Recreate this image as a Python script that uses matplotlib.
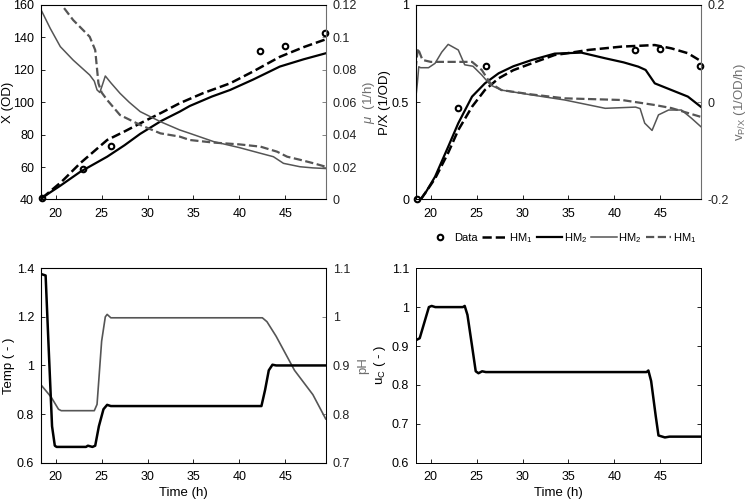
import matplotlib
matplotlib.use("Agg")
import matplotlib.pyplot as plt

plt.rcParams['font.family'] = ['Liberation Sans', 'DejaVu Sans']
plt.rcParams['font.size'] = 9
plt.rcParams['mathtext.fontset'] = 'custom'
plt.rcParams['mathtext.rm'] = 'Liberation Sans'
plt.rcParams['mathtext.it'] = 'Liberation Sans:italic'

# ---------------- data ----------------
# measured data
data_t = [18.5, 23.0, 26.0, 42.2, 45.0, 49.3]
data_X = [41, 59, 73, 131.5, 135, 142.5]
data_PX = [0.0, 0.47, 0.686, 0.767, 0.772, 0.686]

# X (OD) model curves
x_t_hm1 = [18.5, 20.65, 22.65, 25.6, 27.5, 29.2, 31.5, 33.5, 36, 39, 41.5, 44.4, 47, 49.4]
x_hm1 = [40.8, 51, 62.3, 76.7, 82, 87, 93.5, 99.4, 105.5, 111.7, 119, 128, 134, 138.8]
x_t_hm2 = [18.5, 20.5, 22.65, 25.6, 27.5, 29.2, 31.5, 33.5, 34.6, 37, 39, 41.5, 44.4, 47, 49.4]
x_hm2 = [41, 48.5, 57, 66.4, 73.5, 80.5, 88.5, 94.2, 97.7, 103.5, 107.6, 114, 122, 126.5, 130.2]

# mu (1/h)
mu_t_hm2 = [18.4, 18.5, 19.4, 20.5, 21.9, 23.7, 24.2, 24.5, 24.8, 25.1, 25.4, 26.0, 27.0, 28.0, 29.2, 31.4, 33.5, 34.6, 37.2, 40.0, 42.3, 43.7, 44.8, 46.6, 48.0, 49.4]
mu_hm2 = [0.117, 0.1159, 0.1056, 0.0943, 0.086, 0.0768, 0.073, 0.0676, 0.066, 0.071, 0.0762, 0.072, 0.0655, 0.060, 0.0542, 0.048, 0.0429, 0.0408, 0.0357, 0.032, 0.0285, 0.0264, 0.0223, 0.0202, 0.0195, 0.0191]
mu_t_hm1 = [18.4, 20.65, 21.9, 23.7, 24.3, 24.65, 25.0, 25.6, 27.0, 29.2, 31.4, 33.5, 34.6, 37.2, 40.0, 42.3, 44.1, 45.2, 46.6, 48.1, 49.4]
mu_hm1 = [0.135, 0.12, 0.1107, 0.1004, 0.0922, 0.0717, 0.066, 0.0614, 0.0521, 0.046, 0.0408, 0.0388, 0.0367, 0.0351, 0.034, 0.0326, 0.0295, 0.0264, 0.0245, 0.0223, 0.0202]

# P/X (1/OD)
px_t_hm1 = [18.9, 19.5, 20.5, 21.9, 23.0, 24.5, 25.9, 27.4, 29.0, 31.0, 33.5, 34.6, 37.2, 40.8, 44.4, 46.2, 48.0, 49.4]
px_hm1 = [0.0, 0.04, 0.11, 0.24, 0.357, 0.477, 0.563, 0.623, 0.665, 0.70, 0.743, 0.75, 0.769, 0.786, 0.794, 0.777, 0.752, 0.712]
px_t_hm2 = [18.9, 19.5, 20.47, 21.9, 23.0, 24.5, 25.9, 27.4, 29.0, 31.0, 33.5, 36.4, 39.0, 41.0, 42.6, 43.4, 44.4, 46.2, 48.0, 49.4]
px_hm2 = [0.0, 0.04, 0.117, 0.271, 0.392, 0.529, 0.597, 0.649, 0.685, 0.717, 0.75, 0.755, 0.726, 0.705, 0.683, 0.666, 0.597, 0.563, 0.529, 0.477]

# v_P/X (1/OD/h)
v_t_hm2 = [18.35, 18.55, 18.7, 18.9, 19.76, 20.47, 21.2, 21.9, 23.0, 23.7, 24.6, 25.56, 26.5, 27.7, 31.0, 34.6, 39.0, 42.3, 42.8, 43.3, 44.1, 44.8, 45.9, 47.3, 48.4, 49.4]
v_hm2 = [0.0046, 0.04, 0.073, 0.071, 0.071, 0.080, 0.103, 0.119, 0.1075, 0.077, 0.074, 0.056, 0.0355, 0.025, 0.015, 0.0046, -0.0125, -0.010, -0.013, -0.043, -0.058, -0.026, -0.016, -0.016, -0.033, -0.050]
v_t_hm1 = [18.35, 18.6, 19.1, 20.0, 24.5, 25.56, 26.5, 27.7, 31.0, 34.6, 40.8, 44.4, 46.2, 49.4]
v_hm1 = [0.068, 0.111, 0.087, 0.083, 0.083, 0.0663, 0.039, 0.025, 0.016, 0.008, 0.0046, -0.0057, -0.012, -0.030]

# Temp (-) and pH
temp_t = [18.5, 18.9, 19.2, 19.6, 19.9, 20.1, 23.3, 23.5, 24.0, 24.3, 24.7, 25.2, 25.6, 26.0, 42.4, 42.8, 43.2, 43.6, 44.0, 49.4]
temp = [1.375, 1.37, 1.10, 0.75, 0.67, 0.665, 0.665, 0.67, 0.665, 0.67, 0.75, 0.82, 0.838, 0.833, 0.833, 0.90, 0.98, 1.003, 1.0, 1.0]
ph_t = [18.4, 19.5, 20.3, 20.6, 24.2, 24.5, 25.0, 25.4, 25.6, 26.0, 42.5, 43.0, 44.0, 45.0, 46.0, 47.0, 48.0, 49.4]
ph = [0.86, 0.835, 0.81, 0.807, 0.807, 0.82, 0.95, 1.0, 1.005, 0.998, 0.998, 0.99, 0.96, 0.925, 0.89, 0.865, 0.84, 0.79]

# u_C (-)
uc_t = [18.4, 18.8, 19.3, 19.8, 20.1, 20.5, 23.5, 23.7, 24.0, 24.5, 24.9, 25.2, 25.6, 26.0, 43.5, 43.7, 44.0, 44.5, 44.8, 45.5, 46.0, 49.4]
uc = [0.915, 0.92, 0.96, 1.0, 1.003, 1.0, 1.0, 1.003, 0.98, 0.90, 0.835, 0.83, 0.835, 0.833, 0.833, 0.837, 0.81, 0.72, 0.67, 0.665, 0.667, 0.667]

XLIM = (18.4, 49.4)
XTICKS = [20, 25, 30, 35, 40, 45]
GRAY = '#555555'
RGRAY = '#6e6e6e'
LBL = 9.5

fig = plt.figure(figsize=(7.5, 5.03), dpi=100)

def make_ax(left, bottom):
    ax = fig.add_axes([left, bottom, 0.3796, 0.3867])
    ax.set_xlim(*XLIM)
    ax.set_xticks(XTICKS)
    ax.tick_params(direction='in', length=3, width=0.6, top=False, labelsize=9)
    ax.tick_params(axis='x', pad=6)
    ax.tick_params(axis='y', pad=5)
    for s in ax.spines.values():
        s.set_linewidth(0.7)
    return ax

def style_right(ax2):
    ax2.tick_params(direction='in', length=3, width=0.6, colors=RGRAY, labelcolor='#222222', labelsize=9, pad=5)
    ax2.spines['right'].set_color(RGRAY)

# Top-left
ax1 = make_ax(0.0547, 0.6034)
ax1.set_ylim(40, 160)
ax1.set_yticks([40, 60, 80, 100, 120, 140, 160])
ax1.plot(x_t_hm1, x_hm1, '--', color='black', lw=1.8)
ax1.plot(x_t_hm2, x_hm2, '-', color='black', lw=1.6)
ax1.plot(data_t, data_X, 'o', mfc='none', mec='black', ms=4, mew=1.5, clip_on=False, zorder=5)
ax1.set_ylabel('X (OD)', fontsize=LBL)
ax1.yaxis.set_label_coords(-0.094, 0.5)
ax1b = ax1.twinx()
ax1b.set_ylim(0, 0.12)
ax1b.set_yticks([0, 0.02, 0.04, 0.06, 0.08, 0.1, 0.12])
ax1b.set_yticklabels(['0', '0.02', '0.04', '0.06', '0.08', '0.1', '0.12'])
ax1b.plot(mu_t_hm2, mu_hm2, '-', color=GRAY, lw=1.1)
ax1b.plot(mu_t_hm1, mu_hm1, '--', color=GRAY, lw=1.6)
style_right(ax1b)
ax1b.set_ylabel(r'$\mu$  (1/h)', color=RGRAY, fontsize=LBL)
ax1b.yaxis.set_label_coords(1.125, 0.5)

# Top-right
ax2 = make_ax(0.5547, 0.6034)
ax2.set_ylim(0, 1)
ax2.set_yticks([0, 0.5, 1])
ax2.set_yticklabels(['0', '0.5', '1'])
l_hm1, = ax2.plot(px_t_hm1, px_hm1, '--', color='black', lw=1.8)
l_hm2, = ax2.plot(px_t_hm2, px_hm2, '-', color='black', lw=1.6)
l_data, = ax2.plot(data_t, data_PX, 'o', mfc='none', mec='black', ms=4, mew=1.5, clip_on=False, zorder=5)
ax2.set_ylabel('P/X (1/OD)', fontsize=LBL)
ax2.yaxis.set_label_coords(-0.088, 0.5)
ax2b = ax2.twinx()
ax2b.set_ylim(-0.2, 0.2)
ax2b.set_yticks([-0.2, 0, 0.2])
ax2b.set_yticklabels(['-0.2', '0', '0.2'])
g_hm2, = ax2b.plot(v_t_hm2, v_hm2, '-', color=GRAY, lw=1.1)
g_hm1, = ax2b.plot(v_t_hm1, v_hm1, '--', color=GRAY, lw=1.6)
style_right(ax2b)
ax2b.set_ylabel(r'v$_{\mathrm{P/X}}$ (1/OD/h)', color=RGRAY, fontsize=LBL)
ax2b.yaxis.set_label_coords(1.11, 0.5)

fig.legend([l_data, l_hm1, l_hm2, g_hm2, g_hm1],
           ['Data', r'HM$_1$', r'HM$_2$', r'HM$_2$', r'HM$_1$'],
           loc='center', bbox_to_anchor=(0.749, 0.527), ncol=5, frameon=False,
           handlelength=2.3, handletextpad=0.15, columnspacing=0.35, fontsize=8,
           borderaxespad=0, borderpad=0)

# Bottom-left
ax3 = make_ax(0.0547, 0.0801)
ax3.set_ylim(0.6, 1.4)
ax3.set_yticks([0.6, 0.8, 1.0, 1.2, 1.4])
ax3.set_yticklabels(['0.6', '0.8', '1', '1.2', '1.4'])
ax3.plot(temp_t, temp, '-', color='black', lw=1.8, zorder=3)
ax3.set_ylabel('Temp ( - )', fontsize=LBL)
ax3.yaxis.set_label_coords(-0.09, 0.5)
ax3.set_xlabel('Time (h)', fontsize=LBL, labelpad=3)
ax3b = ax3.twinx()
ax3b.set_ylim(0.7, 1.1)
ax3b.set_yticks([0.7, 0.8, 0.9, 1.0, 1.1])
ax3b.set_yticklabels(['0.7', '0.8', '0.9', '1', '1.1'])
ax3b.plot(ph_t, ph, '-', color=GRAY, lw=1.2)
style_right(ax3b)
ax3b.set_ylabel('pH', color=RGRAY, fontsize=LBL)
ax3b.yaxis.set_label_coords(1.11, 0.5)
ax3.set_zorder(ax3b.get_zorder() + 1)
ax3.patch.set_visible(False)

# Bottom-right
ax4 = make_ax(0.5547, 0.0801)
ax4.set_ylim(0.6, 1.1)
ax4.set_yticks([0.6, 0.7, 0.8, 0.9, 1.0, 1.1])
ax4.set_yticklabels(['0.6', '0.7', '0.8', '0.9', '1', '1.1'])
ax4.tick_params(right=True)
ax4.plot(uc_t, uc, '-', color='black', lw=1.8)
ax4.set_ylabel(r'u$_{\mathrm{C}}$ ( - )', fontsize=LBL)
ax4.yaxis.set_label_coords(-0.098, 0.5)
ax4.set_xlabel('Time (h)', fontsize=LBL, labelpad=3)

fig.savefig('out.png', dpi=100)
